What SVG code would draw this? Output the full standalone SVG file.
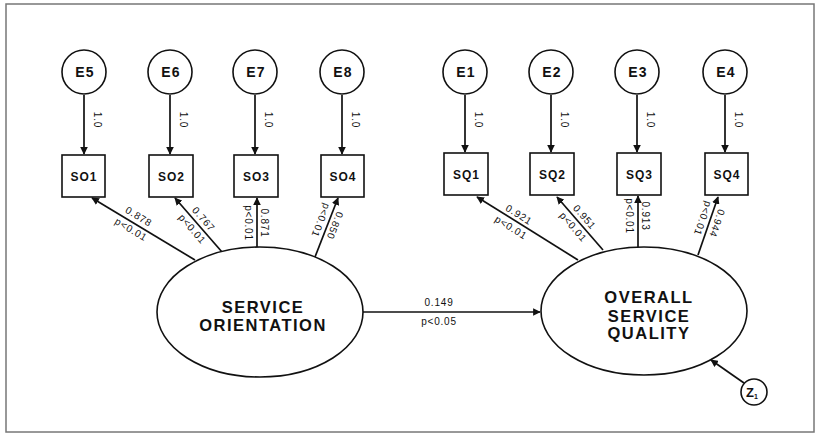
<svg xmlns="http://www.w3.org/2000/svg" width="816" height="435" viewBox="0 0 816 435">
<style>
.n{fill:#fff;stroke:#111;stroke-width:1.6}
.t{font-family:"Liberation Sans",Arial,sans-serif;font-weight:bold;fill:#111;text-anchor:middle}
.e{font-size:14px;letter-spacing:1.2px}
.s{font-size:12px;letter-spacing:1px}
.b{font-size:16.5px;letter-spacing:1.5px}
.l{font-family:"Liberation Sans",Arial,sans-serif;font-size:10px;letter-spacing:0.8px;fill:#111;text-anchor:middle}
.c{stroke:#111;stroke-width:1.7;fill:none;marker-end:url(#ah)}
</style>
<defs>
<marker id="ah" viewBox="0 0 10 10" refX="9" refY="5" markerWidth="4.5" markerHeight="4.5" orient="auto" markerUnits="strokeWidth">
<path d="M0,0 L10,5 L0,10 z" fill="#111"/>
</marker>
</defs>
<rect x="6" y="4" width="808" height="428" fill="#fff" stroke="#777" stroke-width="1.5"/>
<g id="connectors">
<line class="c" x1="84" y1="95" x2="84" y2="154"/>
<line class="c" x1="170" y1="95" x2="170" y2="154"/>
<line class="c" x1="255" y1="95" x2="255" y2="154"/>
<line class="c" x1="342" y1="95" x2="342" y2="154"/>
<line class="c" x1="465" y1="95" x2="465" y2="152"/>
<line class="c" x1="551" y1="95" x2="551" y2="152"/>
<line class="c" x1="637" y1="95" x2="637" y2="152"/>
<line class="c" x1="725" y1="95" x2="725" y2="152"/>
<line class="c" x1="195" y1="260" x2="92" y2="198"/>
<line class="c" x1="222" y1="252" x2="175" y2="198"/>
<line class="c" x1="257" y1="247" x2="257" y2="198"/>
<line class="c" x1="315" y1="257" x2="338" y2="198"/>
<line class="c" x1="578" y1="260" x2="477" y2="197"/>
<line class="c" x1="603" y1="250" x2="557" y2="197"/>
<line class="c" x1="638" y1="247" x2="638" y2="196"/>
<line class="c" x1="698" y1="255" x2="718" y2="197"/>
<line class="c" x1="363" y1="312" x2="540" y2="312"/>
<line class="c" x1="744" y1="383" x2="711" y2="360"/>
<text class="l" transform="translate(93.5,120) rotate(90)">1.0</text>
<text class="l" transform="translate(179.5,120) rotate(90)">1.0</text>
<text class="l" transform="translate(264.5,120) rotate(90)">1.0</text>
<text class="l" transform="translate(351.5,120) rotate(90)">1.0</text>
<text class="l" transform="translate(474.5,120) rotate(90)">1.0</text>
<text class="l" transform="translate(560.5,120) rotate(90)">1.0</text>
<text class="l" transform="translate(646.5,120) rotate(90)">1.0</text>
<text class="l" transform="translate(734.5,120) rotate(90)">1.0</text>
<g transform="translate(135,223) rotate(31)"><text class="l" y="-4">0.878</text><text class="l" y="11">p&lt;0.01</text></g>
<g transform="translate(198,224) rotate(49)"><text class="l" y="-4">0.767</text><text class="l" y="11">p&lt;0.01</text></g>
<g transform="translate(257,223) rotate(90)"><text class="l" y="-4">0.871</text><text class="l" y="12">p&lt;0.01</text></g>
<g transform="translate(328,223) rotate(111)"><text class="l" y="-4">0.850</text><text class="l" y="11">p&lt;0.01</text></g>
<g transform="translate(515,221) rotate(32)"><text class="l" y="-4">0.921</text><text class="l" y="11">p&lt;0.01</text></g>
<g transform="translate(579,222) rotate(49)"><text class="l" y="-4">0.951</text><text class="l" y="11">p&lt;0.01</text></g>
<g transform="translate(638,216) rotate(90)"><text class="l" y="-4">0.913</text><text class="l" y="12">p&lt;0.01</text></g>
<g transform="translate(710,221) rotate(109)"><text class="l" y="-4">0.944</text><text class="l" y="11">p&lt;0.01</text></g>
<text class="l" x="439" y="306">0.149</text>
<text class="l" x="439" y="325">p&lt;0.05</text>
</g>
<g id="E5"><circle class="n" cx="84" cy="72" r="22"/><text class="t e" x="85" y="77">E5</text></g>
<g id="E6"><circle class="n" cx="170" cy="72" r="22"/><text class="t e" x="171" y="77">E6</text></g>
<g id="E7"><circle class="n" cx="255" cy="72" r="22"/><text class="t e" x="256" y="77">E7</text></g>
<g id="E8"><circle class="n" cx="342" cy="72" r="22"/><text class="t e" x="343" y="77">E8</text></g>
<g id="E1"><circle class="n" cx="465" cy="72" r="22"/><text class="t e" x="466" y="77">E1</text></g>
<g id="E2"><circle class="n" cx="551" cy="72" r="22"/><text class="t e" x="552" y="77">E2</text></g>
<g id="E3"><circle class="n" cx="637" cy="72" r="22"/><text class="t e" x="638" y="77">E3</text></g>
<g id="E4"><circle class="n" cx="725" cy="72" r="22"/><text class="t e" x="726" y="77">E4</text></g>
<g id="SO1"><rect class="n" x="62" y="155" width="43" height="42"/><text class="t s" x="84" y="181">SO1</text></g>
<g id="SO2"><rect class="n" x="149" y="155" width="44" height="42"/><text class="t s" x="171.5" y="181">SO2</text></g>
<g id="SO3"><rect class="n" x="234" y="155" width="44" height="42"/><text class="t s" x="256.5" y="181">SO3</text></g>
<g id="SO4"><rect class="n" x="321" y="155" width="43" height="42"/><text class="t s" x="343" y="181">SO4</text></g>
<g id="SQ1"><rect class="n" x="444" y="153" width="44" height="42"/><text class="t s" x="466.5" y="179">SQ1</text></g>
<g id="SQ2"><rect class="n" x="530" y="153" width="44" height="42"/><text class="t s" x="552.5" y="179">SQ2</text></g>
<g id="SQ3"><rect class="n" x="617" y="153" width="44" height="42"/><text class="t s" x="639.5" y="179">SQ3</text></g>
<g id="SQ4"><rect class="n" x="705" y="153" width="43" height="42"/><text class="t s" x="727" y="179">SQ4</text></g>
<g id="ServiceOrientation"><ellipse class="n" cx="260" cy="312" rx="103" ry="65"/><text class="t b" x="263" y="313">SERVICE</text><text class="t b" x="263" y="331">ORIENTATION</text></g>
<g id="OverallServiceQuality"><ellipse class="n" cx="644" cy="311" rx="103" ry="64"/><text class="t b" x="649" y="303">OVERALL</text><text class="t b" x="649" y="322">SERVICE</text><text class="t b" x="649" y="339">QUALITY</text></g>
<g id="Z1"><circle class="n" cx="754" cy="392" r="13"/><text class="t" font-size="13" x="752" y="397">Z<tspan font-size="7" dy="2">1</tspan></text></g>
</svg>
